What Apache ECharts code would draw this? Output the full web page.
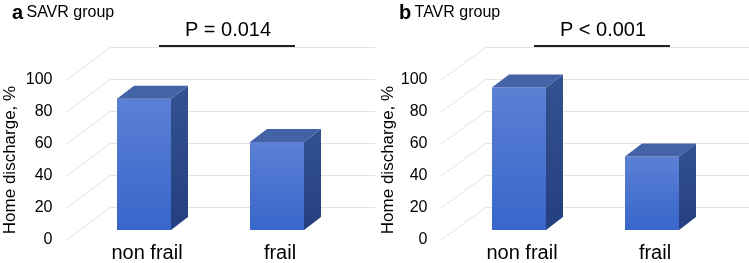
<!DOCTYPE html>
<html>
<head>
<meta charset="utf-8">
<script src="https://cdn.jsdelivr.net/npm/echarts@6/dist/echarts.min.js"></script>
<style>
  html, body { margin: 0; padding: 0; background: #fff; }
  #chart { width: 749px; height: 263px; }
</style>
</head>
<body>
<div id="chart"></div>
<script>
const categories = ["non frail", "frail"];
const savrValues = [82, 55];
const tavrValues = [89, 46];
const yTicks = [0, 20, 40, 60, 80, 100];
const panelLetters = ["a", "b"];
const panelNames = ["SAVR group", "TAVR group"];
const pLabels = ["P = 0.014", "P < 0.001"];

const font = "Liberation Sans, Arial, sans-serif";
const chart = echarts.init(document.getElementById("chart"));

// 3d look: how far the back wall sits from the front edge
const DEPTH_X = 45, DEPTH_Y = 33;
// bar sits in the middle of the depth
const BAR_DX = -3, BAR_DY = -10, BAR_W = 54, SIDE_X = 17, SIDE_Y = 13;

function wallItem(rightEdge) {
  return function (params, api) {
    const cs = params.coordSys;
    const y = Math.round(api.coord([0, api.value(0)])[1]) + 0.5;
    const x0 = cs.x - 15;
    return {
      type: "polyline",
      shape: {
        points: [
          [x0, y],
          [x0 + DEPTH_X, y - DEPTH_Y],
          [rightEdge, y - DEPTH_Y],
        ],
      },
      style: { stroke: "#e2e2e2", lineWidth: 1, fill: null },
      silent: true,
    };
  };
}

function barItem(params, api) {
  const cat = api.value(0);
  const base = api.coord([cat, 0]);
  const top = api.coord([cat, api.value(1)]);
  const l = base[0] + BAR_DX - BAR_W / 2;
  const r = l + BAR_W;
  const t = top[1] + BAR_DY;
  const b = base[1] + BAR_DY;
  return {
    type: "group",
    children: [
      {
        type: "rect",
        shape: { x: l, y: t, width: BAR_W, height: b - t },
        style: {
          fill: new echarts.graphic.LinearGradient(0, 0, 0, 1, [
            { offset: 0, color: "#5b80d4" },
            { offset: 1, color: "#3866cb" },
          ]),
        },
      },
      {
        type: "polygon",
        shape: { points: [[r, t], [r + SIDE_X, t - SIDE_Y], [r + SIDE_X, b - SIDE_Y], [r, b]] },
        style: {
          fill: new echarts.graphic.LinearGradient(0, 0, 0, 1, [
            { offset: 0, color: "#34528f" },
            { offset: 1, color: "#243f80" },
          ]),
        },
      },
      {
        type: "polygon",
        shape: { points: [[l, t], [l + SIDE_X, t - SIDE_Y], [r + SIDE_X, t - SIDE_Y], [r, t]] },
        style: { fill: "#4462a6" },
      },
    ],
  };
}

const offsets = [0, 375];
const values = [savrValues, tavrValues];

const grids = offsets.map((o) => ({ left: 80.5 + o, width: 266, top: 80, bottom: 20 }));
const xAxes = offsets.map((o, i) => ({
  type: "category",
  gridIndex: i,
  data: categories,
  axisLine: { show: false },
  axisTick: { show: false },
  axisLabel: { color: "#000", fontSize: 20, fontFamily: font, margin: 3 },
}));
const yAxes = offsets.map((o, i) => ({
  type: "value",
  gridIndex: i,
  min: 0,
  max: 100,
  interval: 20,
  name: "Home discharge, %",
  nameLocation: "middle",
  nameRotate: 90,
  nameGap: i === 0 ? 62 : 58,
  nameTextStyle: { color: "#000", fontSize: 17, fontFamily: font },
  axisLine: { show: false },
  axisTick: { show: false },
  splitLine: { show: false },
  axisLabel: { color: "#000", fontSize: 16, fontFamily: font, margin: 28 },
}));

const series = [];
offsets.forEach((o, i) => {
  series.push({
    type: "custom",
    xAxisIndex: i,
    yAxisIndex: i,
    renderItem: wallItem(i === 0 ? 375 : 749),
    data: yTicks.map((v) => [v]),
    encode: { y: 0 },
    silent: true,
    z: 1,
  });
  series.push({
    type: "custom",
    xAxisIndex: i,
    yAxisIndex: i,
    renderItem: barItem,
    data: values[i].map((v, k) => [k, v]),
    encode: { x: 0, y: 1 },
    z: 2,
  });
});

const graphics = [];
offsets.forEach((o, i) => {
  graphics.push({
    type: "text",
    left: (i === 0 ? 12 : 24) + o,
    top: 3,
    style: {
      text: "{l|" + panelLetters[i] + "} {n|" + panelNames[i] + "}",
      rich: {
        l: { fontSize: 20, fontWeight: "bold", fill: "#000", fontFamily: font },
        n: { fontSize: 16, fontWeight: "normal", fill: "#000", fontFamily: font },
      },
    },
  });
  graphics.push({
    type: "text",
    x: 228 + o,
    y: 30,
    style: {
      text: pLabels[i],
      fontSize: 20,
      fill: "#000",
      fontFamily: font,
      align: "center",
      verticalAlign: "middle",
    },
  });
  graphics.push({
    type: "line",
    shape: { x1: 159 + o, y1: 46, x2: 295 + o, y2: 46 },
    style: { stroke: "#222", lineWidth: 2 },
    silent: true,
  });
});

chart.setOption({
  animation: false,
  backgroundColor: "#fff",
  grid: grids,
  xAxis: xAxes,
  yAxis: yAxes,
  series: series,
  graphic: graphics,
});
</script>
</body>
</html>
